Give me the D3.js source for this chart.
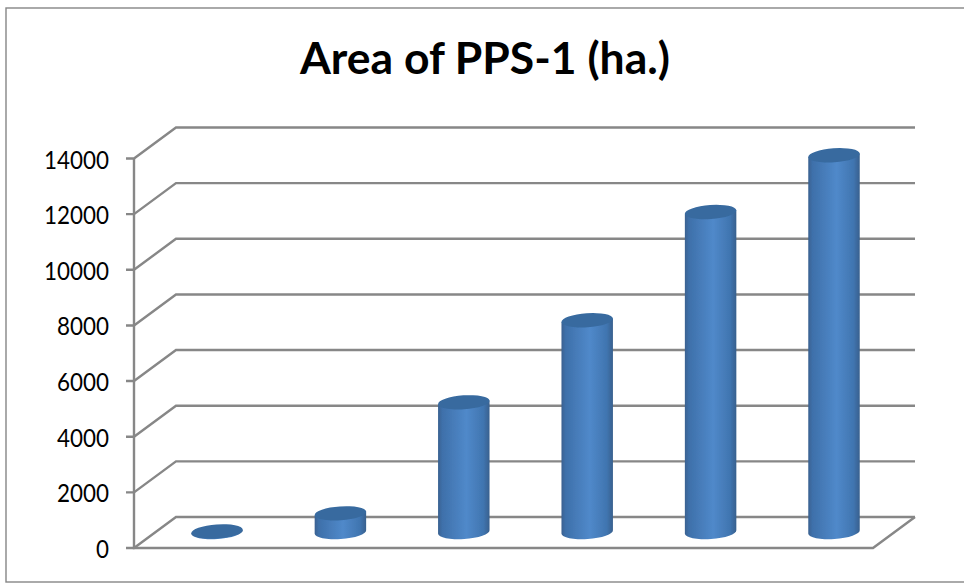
<!DOCTYPE html>
<html><head><meta charset="utf-8">
<script src="https://cdn.jsdelivr.net/npm/d3@7"></script>
<style>html,body{margin:0;padding:0;background:#fff}svg{display:block}</style>
</head><body><div id="c"></div>
<script>
const titleText = "Area of PPS-1 (ha.)";
const categories = ["1","2","3","4","5","6"];
const values = [20, 670, 4660, 7610, 11500, 13540];
const ticks = [0,2000,4000,6000,8000,10000,12000,14000];

const W=964,H=583;
const svg=d3.select("#c").append("svg").attr("width",W).attr("height",H);
const defs=svg.append("defs");
const g=defs.append("linearGradient").attr("id","cyl").attr("x1",0).attr("x2",1).attr("y1",0).attr("y2",0);
[[0,"#3a6190"],[0.08,"#3e70aa"],[0.55,"#5089ca"],[0.88,"#4075b0"],[1,"#38608e"]].forEach(s=>g.append("stop").attr("offset",s[0]).attr("stop-color",s[1]));
const blur=defs.append("filter").attr("id","soft").attr("x","-5%").attr("y","-5%").attr("width","110%").attr("height","110%");
blur.append("feGaussianBlur").attr("stdDeviation",0.5);

// frame
svg.append("rect").attr("x",6).attr("y",8).attr("width",W).attr("height",574)
  .attr("fill","#fff").attr("stroke","#868686").attr("stroke-width",1.4);

// title
svg.append("text").attr("x",485).attr("y",74).attr("text-anchor","middle")
  .attr("font-family","Lato, 'Open Sans', sans-serif").attr("font-weight",700).attr("font-size",43)
  .attr("textLength",370).attr("lengthAdjust","spacingAndGlyphs")
  .attr("fill","#000").text(titleText);

// 3D frame scales
const y=d3.scaleLinear().domain([0,14000]).range([548,158.5]);
const dx=42, dy=-31;           // depth offset of back wall
const frontL=134, frontR=873;
const gridColor="#878787";
const grid=svg.append("g").attr("fill","none").attr("stroke",gridColor).attr("stroke-width",2.4).attr("filter","url(#soft)");
ticks.forEach(t=>{
  const yy=y(t);
  grid.append("path").attr("d",d3.line()([[frontL-8,yy],[frontL,yy],[frontL+dx,yy+dy],[frontR+dx,yy+dy]]));
});
grid.append("path").attr("d",d3.line()([[frontL,y(14000)],[frontL,y(0)],[frontR,y(0)],[frontR+dx,y(0)+dy]]));

// tick labels
svg.append("g").selectAll("text").data(ticks).join("text")
  .attr("x",109).attr("y",d=>y(d)+10).attr("text-anchor","end")
  .attr("font-family","Lato, 'Open Sans', sans-serif").attr("font-size",24.5)
  .attr("textLength",d=>String(d).length*13).attr("lengthAdjust","spacingAndGlyphs")
  .attr("fill","#000").text(d=>d);

// cylinders
const x=d3.scaleBand().domain(categories).range([155.3,895.7]).paddingInner(0.59).paddingOuter(0.295);
const baseY=532, pxPerUnit=(y(0)-y(14000))/14000, rot=-4, ry=7;
const rad=rot*Math.PI/180;
const bars=svg.append("g").attr("filter","url(#soft)");
categories.forEach((c,i)=>{
  const cx=x(c)+x.bandwidth()/2, rx=x.bandwidth()/2+0.5;
  const top=baseY-values[i]*pxPerUnit;
  const ox=rx*Math.cos(rad), oy=rx*Math.sin(rad);
  const p=d3.path();
  p.moveTo(cx-ox,top-oy);
  p.lineTo(cx-ox,baseY-oy);
  const body=p.toString()+`A${rx},${ry} ${rot} 0 0 ${cx+ox},${baseY+oy}L${cx+ox},${top+oy}Z`;
  bars.append("path").attr("d",body).attr("fill","url(#cyl)");
  bars.append("ellipse").attr("cx",cx).attr("cy",top).attr("rx",rx).attr("ry",ry)
    .attr("transform",`rotate(${rot} ${cx} ${top})`).attr("fill","#376a9f");
});
</script></body></html>
